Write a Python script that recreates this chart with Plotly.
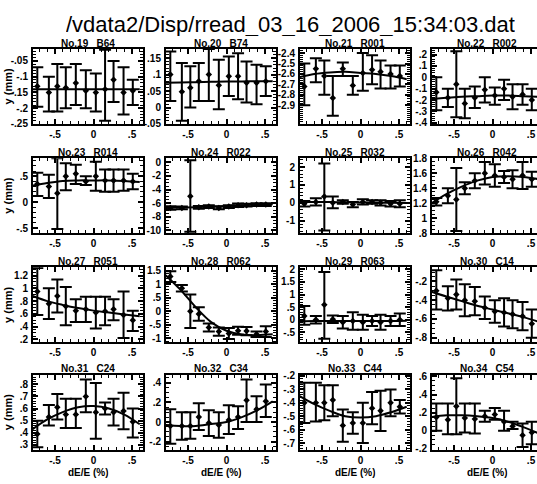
import plotly.graph_objects as go

W, H = 537, 484

title_text = "/vdata2/Disp/rread_03_16_2006_15:34:03.dat"
panel_names = ["No.19   B64", "No.20   B74", "No.21   R001", "No.22   R002",
               "No.23   R014", "No.24   R022", "No.25   R032", "No.26   R042",
               "No.27   R051", "No.28   R062", "No.29   R063", "No.30   C14",
               "No.31   C24", "No.32   C34", "No.33   C44", "No.34   C54"]

# dE/E (%) of the measured points
xs = [-0.73, -0.58, -0.47, -0.36, -0.23, -0.1, 0.03, 0.15, 0.26, 0.39, 0.51]
# x samples of the fitted curves
fit_x = [-0.79, -0.6, -0.4, -0.2, 0.0, 0.2, 0.4, 0.6]

p19_y = [-0.13, -0.15, -0.13, -0.135, -0.12, -0.145, -0.15, -0.14, -0.11, -0.15, -0.145]
p19_hi = [-0.07, -0.10, -0.06, -0.07, -0.06, -0.08, -0.09, -0.015, -0.05, -0.07, -0.11]
p19_lo = [-0.195, -0.21, -0.21, -0.2, -0.19, -0.2, -0.21, -0.24, -0.18, -0.22, -0.19]
p19_fit = [-0.14, -0.14, -0.14, -0.14, -0.14, -0.14, -0.14, -0.14]

p20_y = [0.10, 0.048, 0.06, 0.08, 0.10, 0.068, 0.095, 0.095, 0.075, 0.075, 0.08]
p20_hi = [0.17, 0.135, 0.125, 0.135, 0.178, 0.145, 0.155, 0.165, 0.14, 0.13, 0.125]
p20_lo = [0.02, -0.04, 0.0, 0.02, 0.02, -0.005, 0.035, 0.025, 0.015, 0.01, 0.035]
p20_fit = [0.075, 0.076, 0.077, 0.078, 0.079, 0.079, 0.08, 0.08]

p21_y = [-2.72, -2.55, -2.62, -2.83, -2.55, -2.71, -2.59, -2.56, -2.58, -2.6, -2.62]
p21_hi = [-2.5, -2.45, -2.47, -2.62, -2.49, -2.62, -2.4, -2.42, -2.47, -2.52, -2.52]
p21_lo = [-2.9, -2.68, -2.8, -3.0, -2.62, -2.8, -2.76, -2.7, -2.74, -2.74, -2.72]
p21_fit = [-2.63, -2.6, -2.585, -2.58, -2.59, -2.6, -2.62, -2.65]

p22_y = [-0.13, -0.18, -0.06, -0.23, -0.18, -0.11, -0.16, -0.10, -0.17, -0.15, -0.20]
p22_hi = [0.0, -0.10, 0.23, -0.10, -0.08, 0.0, -0.09, -0.02, -0.06, -0.06, -0.10]
p22_lo = [-0.29, -0.26, -0.35, -0.36, -0.27, -0.22, -0.24, -0.20, -0.28, -0.24, -0.29]
p22_fit = [-0.19, -0.18, -0.17, -0.165, -0.16, -0.16, -0.165, -0.17]

p23_y = [0.35, 0.30, 0.17, 0.50, 0.55, 0.40, 0.50, 0.42, 0.42, 0.42, 0.40]
p23_hi = [0.57, 0.53, 0.85, 0.75, 0.72, 0.50, 0.78, 0.63, 0.63, 0.63, 0.55]
p23_lo = [0.12, 0.08, -0.52, 0.23, 0.35, 0.33, 0.22, 0.20, 0.20, 0.22, 0.25]
p23_fit = [0.32, 0.37, 0.41, 0.42, 0.42, 0.42, 0.41, 0.39]

p24_y = [-6.7, -6.7, -5.0, -6.6, -6.5, -6.7, -6.5, -6.3, -6.3, -6.2, -6.2]
p24_hi = [-6.45, -6.5, 0.3, -6.4, -6.3, -6.5, -6.3, -6.05, -6.1, -6.0, -6.0]
p24_lo = [-6.95, -6.9, -10.2, -6.8, -6.7, -6.9, -6.7, -6.55, -6.5, -6.4, -6.4]
p24_fit = [-6.7, -6.65, -6.6, -6.5, -6.4, -6.3, -6.2, -6.15]

p25_y = [-0.05, 0.05, 0.35, 0.0, 0.05, -0.1, 0.05, 0.05, 0.0, -0.05, -0.05]
p25_hi = [0.1, 0.25, 2.2, 0.35, 0.15, 0.05, 0.2, 0.15, 0.15, 0.1, 0.15]
p25_lo = [-0.2, -0.15, -1.55, -0.3, -0.05, -0.25, -0.1, -0.05, -0.15, -0.2, -0.25]
p25_fit = [0.05, 0.05, 0.04, 0.03, 0.02, 0.01, 0.0, -0.01]

p26_y = [1.22, 1.30, 1.25, 1.40, 1.50, 1.60, 1.57, 1.55, 1.52, 1.57, 1.52]
p26_hi = [1.27, 1.40, 1.67, 1.48, 1.60, 1.75, 1.72, 1.63, 1.64, 1.75, 1.62]
p26_lo = [1.17, 1.20, 0.83, 1.32, 1.40, 1.45, 1.42, 1.47, 1.40, 1.39, 1.42]
p26_fit = [1.2, 1.32, 1.42, 1.5, 1.55, 1.56, 1.55, 1.52]

p27_y = [0.95, 0.76, 0.88, 0.72, 0.65, 0.67, 0.62, 0.64, 0.67, 0.58, 0.50]
p27_hi = [1.32, 1.0, 1.14, 1.02, 0.83, 0.87, 0.87, 0.87, 0.83, 0.95, 0.65]
p27_lo = [0.58, 0.52, 0.62, 0.42, 0.47, 0.47, 0.37, 0.42, 0.50, 0.22, 0.33]
p27_fit = [0.88, 0.8, 0.74, 0.69, 0.65, 0.62, 0.59, 0.56]

p28_y = [1.28, 0.85, 0.0, -0.1, -0.6, -0.75, -0.82, -0.72, -0.73, -0.85, -0.75]
p28_hi = [1.48, 0.97, 0.62, 0.15, -0.45, -0.6, -0.62, -0.57, -0.58, -0.75, -0.55]
p28_lo = [1.08, 0.73, -0.62, -0.35, -0.75, -0.9, -1.02, -0.87, -0.88, -0.95, -0.95]
p28_fit = [1.33, 0.8, 0.15, -0.4, -0.72, -0.86, -0.88, -0.85]

p29_y = [0.15, 0.0, 0.6, 0.02, -0.1, -0.05, -0.1, -0.05, -0.1, -0.05, 0.0]
p29_hi = [0.55, 0.15, 1.9, 0.17, 0.15, 0.3, 0.2, 0.15, 0.2, 0.15, 0.25]
p29_lo = [-0.2, -0.15, -0.75, -0.13, -0.35, -0.4, -0.4, -0.25, -0.4, -0.25, -0.25]
p29_fit = [-0.06, -0.05, -0.05, -0.05, -0.05, -0.05, -0.05, -0.04]

p30_y = [-0.30, -0.38, -0.34, -0.40, -0.41, -0.48, -0.52, -0.53, -0.55, -0.57, -0.65]
p30_hi = [-0.08, -0.25, -0.18, -0.23, -0.26, -0.36, -0.40, -0.38, -0.40, -0.42, -0.50]
p30_lo = [-0.50, -0.51, -0.50, -0.57, -0.56, -0.60, -0.64, -0.68, -0.70, -0.72, -0.80]
p30_fit = [-0.31, -0.36, -0.41, -0.46, -0.5, -0.54, -0.58, -0.63]

p31_y = [0.39, 0.53, 0.61, 0.55, 0.55, 0.70, 0.57, 0.60, 0.57, 0.58, 0.49]
p31_hi = [0.50, 0.63, 0.72, 0.68, 0.68, 0.84, 0.81, 0.65, 0.68, 0.73, 0.60]
p31_lo = [0.28, 0.46, 0.51, 0.44, 0.44, 0.57, 0.35, 0.55, 0.46, 0.43, 0.36]
p31_fit = [0.43, 0.51, 0.57, 0.61, 0.62, 0.6, 0.55, 0.47]

p32_y = [-0.04, -0.04, -0.04, 0.05, -0.01, -0.03, 0.02, 0.05, 0.22, 0.13, 0.21]
p32_hi = [0.13, 0.10, 0.10, 0.19, 0.12, 0.10, 0.17, 0.16, 0.43, 0.26, 0.38]
p32_lo = [-0.22, -0.18, -0.17, -0.08, -0.14, -0.16, -0.12, -0.07, 0.0, 0.0, 0.05]
p32_fit = [-0.03, -0.04, -0.04, -0.02, 0.0, 0.05, 0.12, 0.21]

p33_y = [-0.40, -0.40, -0.40, -0.38, -0.57, -0.55, -0.55, -0.44, -0.46, -0.40, -0.43]
p33_hi = [-0.25, -0.25, -0.27, -0.27, -0.45, -0.47, -0.40, -0.32, -0.31, -0.30, -0.38]
p33_lo = [-0.55, -0.54, -0.53, -0.50, -0.69, -0.63, -0.70, -0.56, -0.61, -0.50, -0.48]
p33_fit = [-0.35, -0.41, -0.46, -0.5, -0.51, -0.5, -0.47, -0.43]

p34_y = [0.15, 0.12, 0.27, 0.14, 0.13, 0.16, 0.18, 0.10, 0.05, -0.05, -0.02]
p34_hi = [0.30, 0.30, 0.58, 0.30, 0.30, 0.22, 0.25, 0.22, 0.10, 0.08, 0.10]
p34_lo = [0.0, -0.04, -0.04, -0.02, -0.03, 0.10, 0.12, 0.0, 0.02, -0.18, -0.15]
p34_fit = [0.15, 0.17, 0.17, 0.16, 0.14, 0.1, 0.04, -0.03]

# y-axis ranges and labelled tick values
y_ranges = [[-0.25, -0.012], [-0.05, 0.178], [-3.08, -2.36], [-0.41, 0.25],
            [-0.6, 0.85], [-10.4, 0.6], [-1.7, 2.5], [0.8, 1.8],
            [0.15, 1.33], [-1.15, 1.62], [-0.9, 2.08], [-0.85, -0.05],
            [0.26, 0.88], [-0.28, 0.48], [-0.75, -0.19], [-0.21, 0.62]]
y_ticks = [[-0.25, -0.2, -0.15, -0.1, -0.05], [-0.05, 0, 0.05, 0.1, 0.15],
           [-2.9, -2.8, -2.7, -2.6, -2.5, -2.4], [-0.4, -0.3, -0.2, -0.1, 0, 0.1, 0.2],
           [-0.5, 0, 0.5], [-10, -8, -6, -4, -2, 0], [-1, 0, 1, 2],
           [0.8, 1, 1.2, 1.4, 1.6, 1.8],
           [0.2, 0.4, 0.6, 0.8, 1, 1.2], [-1, -0.5, 0, 0.5, 1, 1.5],
           [-0.5, 0, 0.5, 1, 1.5, 2], [-0.8, -0.6, -0.4, -0.2],
           [0.3, 0.4, 0.5, 0.6, 0.7, 0.8], [-0.2, 0, 0.2, 0.4],
           [-0.7, -0.6, -0.5, -0.4, -0.3, -0.2], [-0.2, 0, 0.2, 0.4, 0.6]]
y_minor = [0.01, 0.01, 0.02, 0.02, 0.1, 0.5, 0.2, 0.05,
           0.05, 0.1, 0.1, 0.05, 0.02, 0.05, 0.02, 0.05]
x_ticks = [-0.5, 0, 0.5]

panels = [
    (p19_y, p19_hi, p19_lo, p19_fit), (p20_y, p20_hi, p20_lo, p20_fit),
    (p21_y, p21_hi, p21_lo, p21_fit), (p22_y, p22_hi, p22_lo, p22_fit),
    (p23_y, p23_hi, p23_lo, p23_fit), (p24_y, p24_hi, p24_lo, p24_fit),
    (p25_y, p25_hi, p25_lo, p25_fit), (p26_y, p26_hi, p26_lo, p26_fit),
    (p27_y, p27_hi, p27_lo, p27_fit), (p28_y, p28_hi, p28_lo, p28_fit),
    (p29_y, p29_hi, p29_lo, p29_fit), (p30_y, p30_hi, p30_lo, p30_fit),
    (p31_y, p31_hi, p31_lo, p31_fit), (p32_y, p32_hi, p32_lo, p32_fit),
    (p33_y, p33_hi, p33_lo, p33_fit), (p34_y, p34_hi, p34_lo, p34_fit),
]


def lab(v):
    s = f"{v:g}"
    if s.startswith("0."):
        s = s[1:]
    elif s.startswith("-0."):
        s = "-" + s[2:]
    return s


FONT = "Liberation Sans"
col_left = [33, 166, 300, 432]
row_top = [44, 156, 268, 378]
BOX_W, BOX_H = 110, 77
PX_PER_UNIT = 77.0
X0 = -0.786

fig = go.Figure()
layout = dict(width=W, height=H, margin=dict(l=0, r=0, t=0, b=0),
              paper_bgcolor="white", plot_bgcolor="white", showlegend=False)
annotations = []

for i, (py, phi, plo, pfit) in enumerate(panels):
    r, c = divmod(i, 4)
    k = "" if i == 0 else str(i + 1)
    left = col_left[c]
    right = min(left + BOX_W, W)
    top = row_top[r]
    bot = top + BOX_H
    x1 = X0 + (right - left) / PX_PER_UNIT
    common_ax = dict(showline=True, linecolor="black", linewidth=2,
                     ticks="inside", ticklen=5, tickwidth=1.5, tickcolor="black",
                     showgrid=False, zeroline=False,
                     tickfont=dict(family=FONT, size=10, color="black", weight="bold"))
    layout["xaxis" + k] = dict(
        common_ax, domain=[left / W, right / W], range=[X0, x1],
        anchor="y" + k, mirror="ticks", tickmode="array",
        tickvals=x_ticks, ticktext=[lab(v) for v in x_ticks],
        ticklabelstandoff=0,
        minor=dict(ticks="inside", ticklen=3, tickwidth=1, tickcolor="black",
                   tickmode="linear", tick0=0, dtick=0.1))
    layout["yaxis" + k] = dict(
        common_ax, domain=[1 - bot / H, 1 - top / H], range=y_ranges[i],
        anchor="x" + k, mirror=("ticks" if c < 3 else False), tickmode="array",
        tickvals=y_ticks[i], ticktext=[lab(v) for v in y_ticks[i]],
        ticklabelstandoff=1,
        minor=dict(ticks="inside", ticklen=3, tickwidth=1, tickcolor="black",
                   tickmode="linear", tick0=0, dtick=y_minor[i]))
    fig.add_trace(go.Scatter(
        x=xs, y=py, mode="markers", xaxis="x" + k, yaxis="y" + k,
        marker=dict(symbol="diamond", size=5, color="black"),
        error_y=dict(type="data", symmetric=False,
                     array=[h - v for h, v in zip(phi, py)],
                     arrayminus=[v - l for v, l in zip(py, plo)],
                     thickness=2, width=6, color="black")))
    fig.add_trace(go.Scatter(
        x=fit_x, y=pfit, mode="lines", xaxis="x" + k, yaxis="y" + k,
        line=dict(color="black", width=2, shape="spline")))
    annotations.append(dict(
        text=panel_names[i], xref="paper", yref="paper",
        x=(left + BOX_W / 2) / W, y=1 - (top - 6.5) / H,
        xanchor="center", yanchor="middle", showarrow=False, height=12,
        font=dict(family=FONT, size=10, color="black", weight="bold")))
    if c == 0:
        annotations.append(dict(
            text="y (mm)", xref="paper", yref="paper", textangle=-90,
            x=8 / W, y=1 - (top + BOX_H / 2) / H,
            xanchor="center", yanchor="middle", showarrow=False,
            font=dict(family=FONT, size=11, color="black", weight="bold")))
    if r == 3:
        annotations.append(dict(
            text="dE/E (%)", xref="paper", yref="paper",
            x=(left + BOX_W / 2) / W, y=1 - 478.5 / H,
            xanchor="center", yanchor="middle", showarrow=False,
            height=11, borderpad=0,
            font=dict(family=FONT, size=10, color="black", weight="bold")))

annotations.append(dict(
    text=title_text, xref="paper", yref="paper", x=64 / W, y=1 - 18 / H,
    xanchor="left", yanchor="middle", showarrow=False, height=24,
    font=dict(family=FONT, size=22, color="black")))

layout["annotations"] = annotations
fig.update_layout(**layout)
fig.write_html("out.html")
